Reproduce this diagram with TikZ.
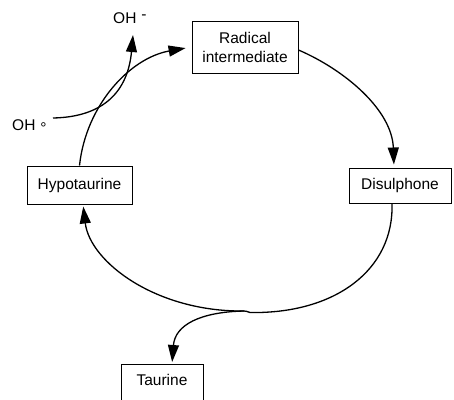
\documentclass[tikz,border=0pt]{standalone}
\usepackage{fontspec}
\setmainfont{Liberation Sans}
\usetikzlibrary{arrows.meta}
\begin{document}
\begin{tikzpicture}[x=1pt,y=-1pt,
  box/.style={draw, line width=1pt, inner sep=0pt, font=\fontsize{15.5}{19}\selectfont, align=center},
  conn/.style={line width=1.3pt, -{Triangle[length=17pt,width=11pt]}},
  plain/.style={line width=1.3pt},
  lbl/.style={inner sep=0pt, font=\fontsize{15.5}{19}\selectfont}]
\useasboundingbox (0,0) rectangle (454,399);
\clip (0,0) rectangle (454,399);
\node[box, minimum width=106pt, minimum height=52pt] (rad) at (245,47) {Radical\\intermediate};
\node[box, minimum width=102pt, minimum height=35pt] (dis) at (400,185.5) {Disulphone};
\node[box, minimum width=105pt, minimum height=38pt] (hyp) at (79.5,185) {Hypotaurine};
\node[box, anchor=north, minimum width=82pt, text height=21pt, text depth=40pt] (tau) at (162,364) {Taurine};
\node[lbl, anchor=base west] (ohm) at (113,23) {OH\hspace{5pt}\raisebox{3.5pt}{-}};
\node[lbl, anchor=base west] (ohr) at (12,130) {OH\hspace{5pt}\raisebox{-3pt}{°}};
\coordinate (ohs) at (53,118);
\coordinate (ohe) at (133,35);
\coordinate (bot) at (244,311);
\draw[conn, shorten >=3pt] ([yshift=-3pt]rad.east) .. controls (345,70) and (392,110) .. ([xshift=-6pt]dis.north);
\draw[plain] ([xshift=-8pt]dis.south) .. controls (394,270) and (335,314) .. (250,312.5) .. controls (247,312.5) and (246,310) .. (bot);
\draw[conn, shorten >=2pt] (bot) .. controls (156,312) and (90,262) .. ([xshift=3.5pt]hyp.south);
\draw[conn, shorten >=6pt] (hyp.north) .. controls (86,105) and (130,58) .. (rad.west);
\draw[conn, shorten >=2pt] (bot) .. controls (200,312) and (175,325) .. ([xshift=10pt]tau.north);
\draw[conn] (ohs) .. controls (105,117) and (128,90) .. (ohe);
\end{tikzpicture}
\end{document}
